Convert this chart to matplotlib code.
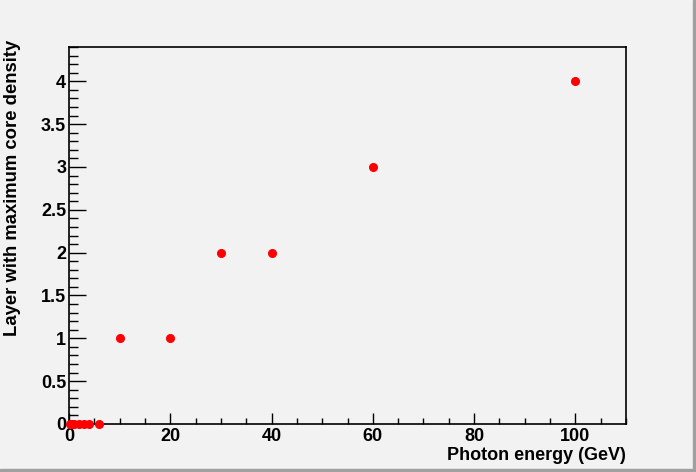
import matplotlib
matplotlib.use('Agg')
import matplotlib.pyplot as plt
from matplotlib.patches import Rectangle
from matplotlib.ticker import MultipleLocator

# photon energy (GeV) vs layer with maximum core density
energy = [0.2, 0.5, 1, 2, 3, 4, 6, 10, 20, 30, 40, 60, 100]
layer = [0, 0, 0, 0, 0, 0, 0, 1, 1, 2, 2, 3, 4]

plt.rcParams['font.family'] = ['Liberation Sans', 'DejaVu Sans']
plt.rcParams['font.weight'] = 'bold'

bg = '#f2f2f2'
fig = plt.figure(figsize=(6.96, 4.72), dpi=100, facecolor=bg)

# canvas bevel (ROOT style)
fig.patches.append(Rectangle((0, 0), 1, 3 / 472, transform=fig.transFigure,
                             color='#a0a0a0', zorder=0))
fig.patches.append(Rectangle((1 - 3 / 696, 0), 3 / 696, 1, transform=fig.transFigure,
                             color='#a0a0a0', zorder=0))

ax = fig.add_axes([69 / 696, 48 / 472, 557 / 696, 377 / 472])
ax.set_facecolor(bg)

ax.plot(energy, layer, 'o', color='red', markersize=5.5, clip_on=False, zorder=5)

ax.set_xlim(0, 110)
ax.set_ylim(0, 4.4)
ax.xaxis.set_major_locator(MultipleLocator(20))
ax.xaxis.set_minor_locator(MultipleLocator(5))
ax.yaxis.set_major_locator(MultipleLocator(0.5))
ax.yaxis.set_minor_locator(MultipleLocator(0.1))
ax.yaxis.set_major_formatter(plt.FuncFormatter(lambda v, p: f'{v:g}'))

ax.tick_params(which='both', direction='in', top=False, right=False,
               labelsize=13, width=1, color='black')
ax.tick_params(axis='x', which='major', length=8, pad=3)
ax.tick_params(axis='x', which='minor', length=4)
ax.tick_params(axis='y', which='major', length=12.5, pad=2)
ax.tick_params(axis='y', which='minor', length=6.5)
for s in ax.spines.values():
    s.set_linewidth(1.2)

ax.set_xlabel('Photon energy (GeV)', fontsize=13, fontweight='bold', loc='right', labelpad=1)
ax.set_ylabel('Layer with maximum core density', fontsize=13.3, fontweight='bold', loc='top')
ax.yaxis.set_label_coords(-0.087, 1.02)

fig.savefig('out.png', dpi=100, facecolor=bg)
